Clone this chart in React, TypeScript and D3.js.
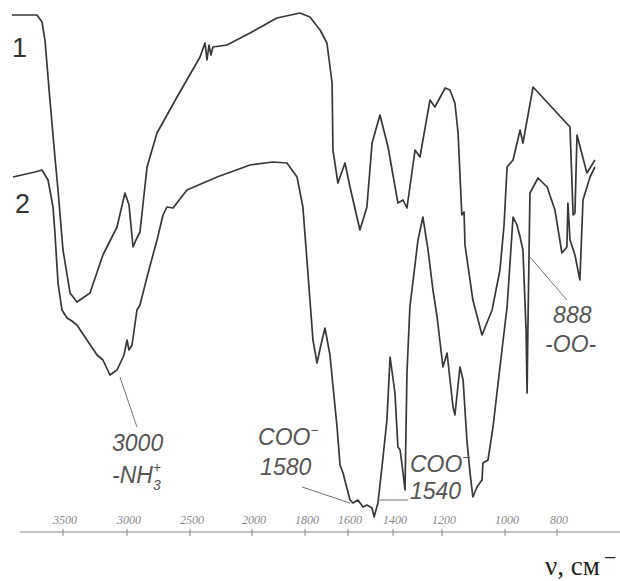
import * as d3 from "d3";

// IR spectra, wavenumber (cm-1) vs transmission (%)
const wn1 = [3898, 3703, 3664, 3641, 3602, 3563, 3539, 3500, 3445, 3391, 3289, 3188, 3078, 3016, 2984, 2952, 2929, 2897, 2841, 2762, 2603, 2419, 2379, 2363, 2347, 2331, 2315, 2202, 2016, 1906, 1819, 1777, 1730, 1698, 1674, 1670, 1647, 1614, 1591, 1547, 1516, 1493, 1458, 1422, 1380, 1359, 1343, 1310, 1290, 1249, 1229, 1190, 1175, 1159, 1149, 1137, 1130, 1127, 1102, 1073, 1041, 1016, 1003, 992, 969, 942, 931, 892, 750, 738, 731, 723, 685, 654];
const t1 = [101, 101, 99.6, 96, 84, 72.6, 66, 54, 45.4, 43.6, 45.4, 53, 58.6, 65.4, 63, 54.6, 56, 57.6, 70.6, 77.4, 84.6, 92.6, 95.4, 92, 95, 93, 94.6, 95, 97.4, 100.4, 101.4, 100.6, 98, 95.4, 87.4, 74, 67.4, 71.4, 66.6, 58, 62.6, 75.4, 81, 74.6, 63.4, 64, 62.4, 74, 72.6, 84, 82.6, 86.4, 86, 83.4, 77.4, 61, 61.6, 55, 44, 37, 42, 50, 59, 70.6, 72, 78, 75.4, 86.6, 78.6, 61, 61.4, 77, 69.4, 72];

const wn2 = [3891, 3719, 3664, 3617, 3578, 3563, 3539, 3508, 3469, 3430, 3391, 3313, 3234, 3188, 3133, 3078, 3023, 3000, 2984, 2960, 2921, 2897, 2841, 2762, 2714, 2683, 2635, 2524, 2282, 2016, 1921, 1868, 1830, 1808, 1791, 1763, 1744, 1726, 1707, 1684, 1651, 1637, 1623, 1609, 1591, 1578, 1556, 1533, 1516, 1493, 1484, 1467, 1449, 1427, 1413, 1392, 1380, 1371, 1359, 1351, 1343, 1331, 1298, 1278, 1257, 1237, 1220, 1197, 1184, 1165, 1159, 1143, 1133, 1121, 1111, 1102, 1089, 1073, 1070, 1054, 1038, 1016, 992, 969, 954, 942, 931, 919, 915, 912, 904, 873, 838, 808, 781, 762, 758, 750, 731, 712, 700, 673, 654];
const t2 = [68.6, 69.6, 70, 68, 62.6, 57.4, 47.4, 42, 40.4, 39.8, 39, 36, 33, 32, 29, 30, 33, 36, 34, 35, 42, 43, 48.6, 56, 61, 62.6, 62.4, 66, 68.6, 71, 71.6, 71.4, 68.6, 62.6, 52, 36, 31.4, 35, 38.4, 33, 18.6, 11, 9.4, 7, 4, 3.4, 4, 2.6, 3, 2.4, 0.6, 3.4, 10.6, 20, 32.6, 25.4, 14.6, 14, 9.4, 6, 29.4, 42.6, 56, 60.6, 54, 46, 40.6, 30.6, 33.4, 22.6, 21, 30.6, 28, 16, 9.4, 4.6, 6.6, 8, 11.4, 12, 18.6, 30.6, 42.6, 60.6, 59, 56.6, 54, 38, 25.4, 38, 65.4, 68.4, 66.6, 62, 53.4, 54.6, 63.4, 56, 53, 48, 64, 68.6, 70.6];

const tickValues = [3500, 3000, 2500, 2000, 1800, 1600, 1400, 1200, 1000, 800];

// band labels: point on the curve, far end of the leader, label position
const bands = [
  { at: [3055, 28.6], to: [2921, 18.6], text: [3117, 13.8] },
  { at: [1591, 3.4], to: [1811, 6.6], text: [1977, 13] },
  { at: [1471, 4], to: [1339, 4], text: [1331, 9.4] },
  { at: [904, 52.6], to: [762, 44], text: [815, 39.4] },
];

const W = 620;
const H = 581;

export default function App() {
  // the wavenumber axis is compressed in pieces, as on the original plot
  const x = d3
    .scaleLinear()
    .domain([4000, 3500, 3000, 2500, 2000, 1800, 1600, 1400, 1200, 1000, 800, 600])
    .range([-1, 63, 127, 190, 252, 305, 348, 393, 442, 505, 557, 609]);
  const y = d3.scaleLinear().domain([0, 100]).range([520, 20]);

  const line = d3
    .line<[number, number]>()
    .x((d) => x(d[0]))
    .y((d) => y(d[1]));

  const p1 = line(wn1.map((w, i) => [w, t1[i]]));
  const p2 = line(wn2.map((w, i) => [w, t2[i]]));

  const axisY = 532;
  const sans = "'Liberation Sans', Arial, sans-serif";
  const serif = "'Liberation Serif', 'Times New Roman', serif";
  const txt = { fontFamily: sans, fontStyle: "italic", fill: "#555", fontSize: 23 };

  return (
    <svg
      width={W}
      height={H}
      style={{ position: "fixed", left: 0, top: 0, background: "#fff" }}
    >
      <path d={p1 ?? ""} fill="none" stroke="#383838" strokeWidth={1.7} strokeLinejoin="round" />
      <path d={p2 ?? ""} fill="none" stroke="#383838" strokeWidth={1.7} strokeLinejoin="round" />

      <text x={12} y={57} fontFamily={sans} fontSize={27} fill="#333">1</text>
      <text x={15} y={213} fontFamily={sans} fontSize={27} fill="#333">2</text>

      {bands.map((b, i) => (
        <line
          key={"l" + i}
          x1={x(b.at[0])}
          y1={y(b.at[1])}
          x2={x(b.to[0])}
          y2={y(b.to[1])}
          stroke="#777"
          strokeWidth={1}
        />
      ))}

      {/* 3000 / -NH3+ */}
      <text {...txt} x={x(bands[0].text[0])} y={y(bands[0].text[1])}>3000</text>
      <text {...txt} x={x(bands[0].text[0])} y={y(bands[0].text[1]) + 32}>
        -NH
        <tspan fontSize={14} dy={7}>3</tspan>
        <tspan fontSize={14} dx={-8} dy={-18}>+</tspan>
      </text>

      {/* COO- / 1580 */}
      <text {...txt} x={x(bands[1].text[0])} y={y(bands[1].text[1]) - 10}>
        COO<tspan fontSize={14} dy={-10}>−</tspan>
      </text>
      <text {...txt} x={x(bands[1].text[0]) + 2} y={y(bands[1].text[1]) + 20}>1580</text>

      {/* COO- / 1540 */}
      <text {...txt} x={x(bands[2].text[0])} y={y(bands[2].text[1]) - 1}>
        COO<tspan fontSize={14} dy={-10}>−</tspan>
      </text>
      <text {...txt} x={x(bands[2].text[0])} y={y(bands[2].text[1]) + 26}>1540</text>

      {/* 888 / -OO- */}
      <text {...txt} x={x(bands[3].text[0])} y={y(bands[3].text[1])}>888</text>
      <text {...txt} x={x(bands[3].text[0]) - 8} y={y(bands[3].text[1]) + 29}>-OO-</text>

      {/* wavenumber axis */}
      <line x1={20} x2={W} y1={axisY} y2={axisY} stroke="#888" strokeWidth={1.2} />
      {tickValues.map((v) => (
        <g key={v} transform={`translate(${x(v)},0)`}>
          <line y1={axisY - 3} y2={axisY + 4} stroke="#888" strokeWidth={1} />
          <text
            x={2}
            y={axisY - 8}
            textAnchor="middle"
            fontFamily={serif}
            fontStyle="italic"
            fontSize={12}
            fill="#888"
          >
            {v}
          </text>
        </g>
      ))}

      <text x={545} y={575} fontFamily={serif} fontSize={27} fill="#222">
        ν, см
      </text>
      <text x={604} y={565} fontFamily={serif} fontSize={22} fill="#222">
        −
      </text>
    </svg>
  );
}
